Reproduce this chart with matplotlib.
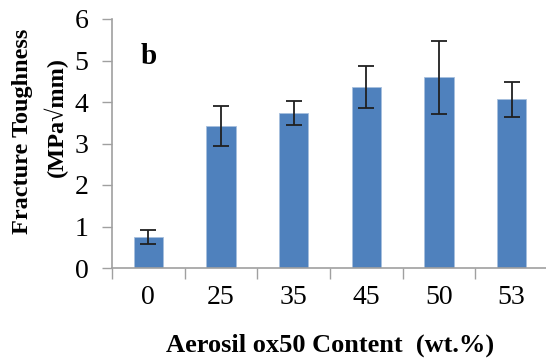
import matplotlib
matplotlib.use("Agg")
import matplotlib.pyplot as plt
import numpy as np

categories = ["0", "25", "35", "45", "50", "53"]
values = [0.75, 3.43, 3.73, 4.36, 4.60, 4.07]
errors = [0.17, 0.48, 0.29, 0.51, 0.88, 0.42]
yticks = [0, 1, 2, 3, 4, 5, 6]

plt.rcParams['font.family'] = ['Liberation Serif', 'DejaVu Serif']

fig = plt.figure(figsize=(5.46, 3.61), dpi=100)
ax = fig.add_axes([112/546, (361-268)/361, 436/546, (268-19)/361])

x = np.arange(len(categories))
ax.bar(x, values, width=0.4, color='#4F81BD', edgecolor='#A7BFDE', linewidth=0.6, zorder=2)
ax.errorbar(x, values, yerr=errors, fmt='none', ecolor='#202020', elinewidth=1.3,
            capsize=6, capthick=1.3, zorder=3)

ax.set_xlim(-0.5, len(categories) - 0.5)
ax.set_ylim(0, 6)
ax.set_yticks(yticks)
ax.set_yticklabels([str(t) for t in yticks], fontsize=20)
ax.set_xticks(x)
ax.set_xticklabels(categories, fontsize=20)
ax.set_xticks(np.arange(-0.5, len(categories), 1.0), minor=True)
ax.tick_params(axis='x', which='major', length=0, pad=12)
ax.tick_params(axis='x', which='minor', length=8, width=1, color='#A0A0A0')
ax.tick_params(axis='y', which='major', length=7, width=1, color='#A0A0A0', pad=10)

for s in ['top', 'right']:
    ax.spines[s].set_visible(False)
for s in ['left', 'bottom']:
    ax.spines[s].set_color('#A0A0A0')
    ax.spines[s].set_linewidth(1.2)

ax.set_xlabel("Aerosil ox50 Content  (wt.%)", fontsize=19, fontweight='bold', labelpad=17)
fig.text(23/546, (361-131)/361, "Fracture Toughness", fontsize=17.5, fontweight='bold',
         rotation=90, ha='center', va='center')
fig.text(56/546, (361-117)/361, "(MPa\u221Amm)", fontsize=17.5, fontweight='bold',
         rotation=90, ha='center', va='center')
ax.text(0.0, 5.1, "b", fontsize=21, fontweight='bold', ha='center', va='center')

fig.savefig("out.png", dpi=100)
